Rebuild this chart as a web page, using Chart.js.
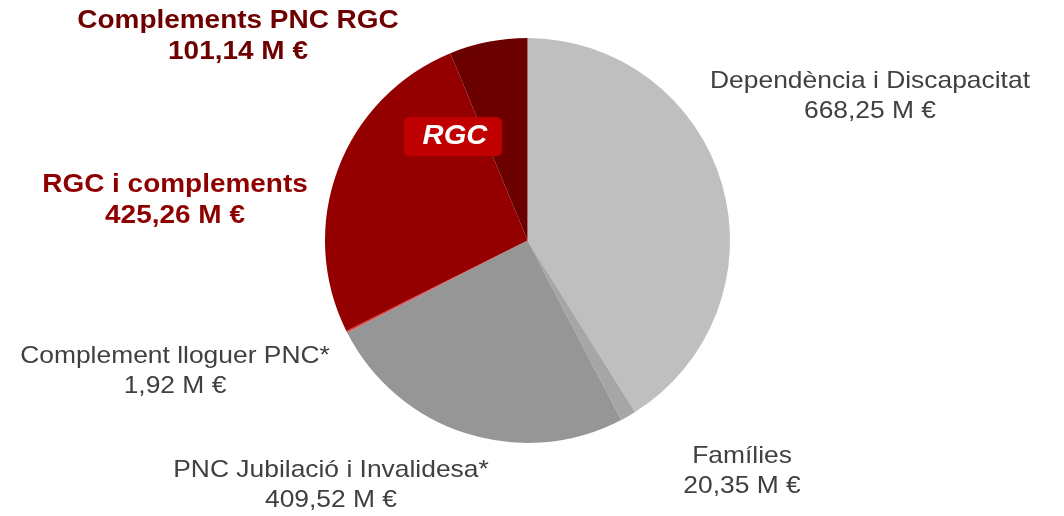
<!DOCTYPE html>
<html>
<head>
<meta charset="utf-8">
<script src="https://cdn.jsdelivr.net/npm/chart.js@4"></script>
<style>
  html, body { margin: 0; padding: 0; background: #fff; }
  #wrap { width: 1064px; height: 516px; }
</style>
</head>
<body>
<div id="wrap"><canvas id="myChart" width="1064" height="516"></canvas></div>
<script>
const categories = [
  "Dependència i Discapacitat",
  "Famílies",
  "PNC Jubilació i Invalidesa*",
  "Complement lloguer PNC*",
  "RGC i complements",
  "Complements PNC RGC"
];
const amounts = [668.25, 20.35, 409.52, 1.92, 425.26, 101.14];
const sliceColors = ["#bfbfbf", "#a6a6a6", "#969696", "#ff2020", "#940000", "#6b0000"];

// label placement (centre x, first line y) and style per slice
const labelPos = [[870, 81], [742, 456], [331, 470], [175, 356], [175, 185], [238, 21]];
const labelBold = [false, false, false, false, true, true];
const labelColor = ["#404040", "#404040", "#404040", "#404040", "#8e0000", "#6e0000"];

const fmt = (v) => v.toFixed(2).replace(".", ",") + " M €";

// text in the original is slightly stretched horizontally
const wideText = (ctx, text, x, y, sx) => {
  ctx.save();
  ctx.translate(x, y);
  ctx.scale(sx, 1);
  ctx.fillText(text, 0, 0);
  ctx.restore();
};

const labelsPlugin = {
  id: "sliceLabels",
  afterDraw: (chart) => {
    const ctx = chart.ctx;
    ctx.save();
    ctx.textAlign = "center";
    ctx.textBaseline = "middle";
    categories.forEach((name, i) => {
      let [x, y] = labelPos[i];
      let bold = labelBold[i];
      ctx.fillStyle = labelColor[i];
      ctx.font = (bold ? "bold 26px" : "24px") + " 'Liberation Sans', Arial, sans-serif";
      let sx = bold ? 1.075 : 1.1;
      wideText(ctx, name, x, y, sx);
      wideText(ctx, fmt(amounts[i]), x, y + (bold ? 31 : 30), sx);
    });

    // RGC tag
    ctx.fillStyle = "#c00000";
    ctx.beginPath();
    ctx.roundRect(404, 117, 98, 39, 5);
    ctx.fill();
    ctx.fillStyle = "#ffffff";
    ctx.font = "italic bold 27px 'Liberation Sans', Arial, sans-serif";
    wideText(ctx, "RGC", 455, 137, 1.08);
    ctx.restore();
  }
};

const ctx = document.getElementById("myChart");
const myChart = new Chart(ctx, {
  type: "pie",
  data: {
    labels: categories,
    datasets: [{
      data: amounts,
      backgroundColor: sliceColors,
      borderWidth: 0
    }]
  },
  options: {
    responsive: false,
    animation: false,
    layout: { padding: { left: 100, right: 109, top: 38, bottom: 73 } },
    plugins: {
      legend: { display: false },
      tooltip: { enabled: false }
    }
  },
  plugins: [labelsPlugin]
});
</script>
</body>
</html>
